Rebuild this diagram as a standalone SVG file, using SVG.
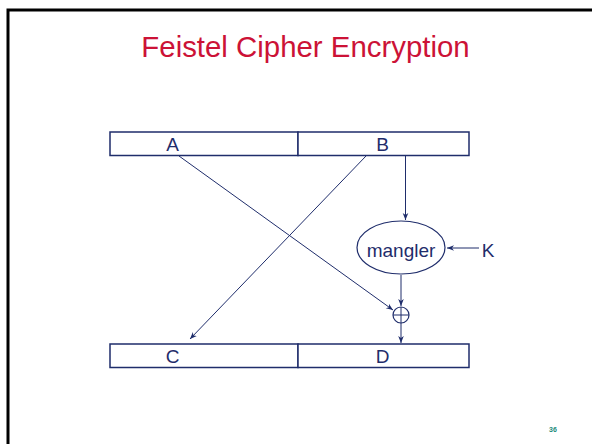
<svg xmlns="http://www.w3.org/2000/svg" width="592" height="444" viewBox="0 0 592 444">
<defs>
<marker id="ah" viewBox="0 0 10 10" refX="10" refY="5" markerWidth="7" markerHeight="7" markerUnits="userSpaceOnUse" orient="auto">
<path d="M0,1 L10,5 L0,9 L3,5 Z" fill="#1f2d6b"/>
</marker>
<style>
.box{fill:#fff;stroke:#1f2d6b;stroke-width:1.5}
.ln{fill:none;stroke:#1f2d6b;stroke-width:1}
.lbl{font-family:"Liberation Sans",Arial,sans-serif;font-size:19px;fill:#1f2d6b;text-anchor:middle}
</style>
</defs>
<rect width="592" height="444" fill="#fff"/>
<path d="M8,444 V10 H592" fill="none" stroke="#000" stroke-width="3"/>
<text x="305.5" y="57" font-family="Liberation Sans,Arial,sans-serif" font-size="29.4" fill="#cc1236" text-anchor="middle">Feistel Cipher Encryption</text>
<g id="top">
<rect class="box" x="110" y="132" width="188" height="23.5"/>
<rect class="box" x="298" y="132" width="171" height="23.5"/>
<text class="lbl" x="172.5" y="151">A</text>
<text class="lbl" x="382.5" y="151">B</text>
</g>
<g id="bottom">
<rect class="box" x="110" y="344" width="188" height="23.5"/>
<rect class="box" x="298" y="344" width="171" height="23.5"/>
<text class="lbl" x="172.5" y="363">C</text>
<text class="lbl" x="382.5" y="363">D</text>
</g>
<g id="mangler">
<ellipse cx="401" cy="247.5" rx="44" ry="26.5" fill="#fff" stroke="#1f2d6b" stroke-width="1.2"/>
<text class="lbl" x="401" y="257">mangler</text>
</g>
<g id="K">
<text class="lbl" x="488" y="257">K</text>
</g>
<g id="xor">
<circle cx="401" cy="315" r="8" fill="#fff" stroke="#1f2d6b" stroke-width="1.2"/>
<path class="ln" d="M393,315 H409 M401,307 V323"/>
</g>
<g id="connectors">
<line class="ln" x1="179" y1="156" x2="393" y2="310" marker-end="url(#ah)"/>
<line class="ln" x1="366" y1="156" x2="190" y2="339" marker-end="url(#ah)"/>
<line class="ln" x1="405.5" y1="156" x2="405.5" y2="220" marker-end="url(#ah)"/>
<line class="ln" x1="479" y1="248" x2="447" y2="248" marker-end="url(#ah)"/>
<line class="ln" x1="401" y1="275" x2="401" y2="306" marker-end="url(#ah)"/>
<line class="ln" x1="401" y1="323" x2="401" y2="343" marker-end="url(#ah)"/>
</g>
<text x="553" y="432" font-family="Liberation Sans,Arial,sans-serif" font-size="7" font-weight="bold" fill="#1a8a7a" text-anchor="middle">36</text>
</svg>
